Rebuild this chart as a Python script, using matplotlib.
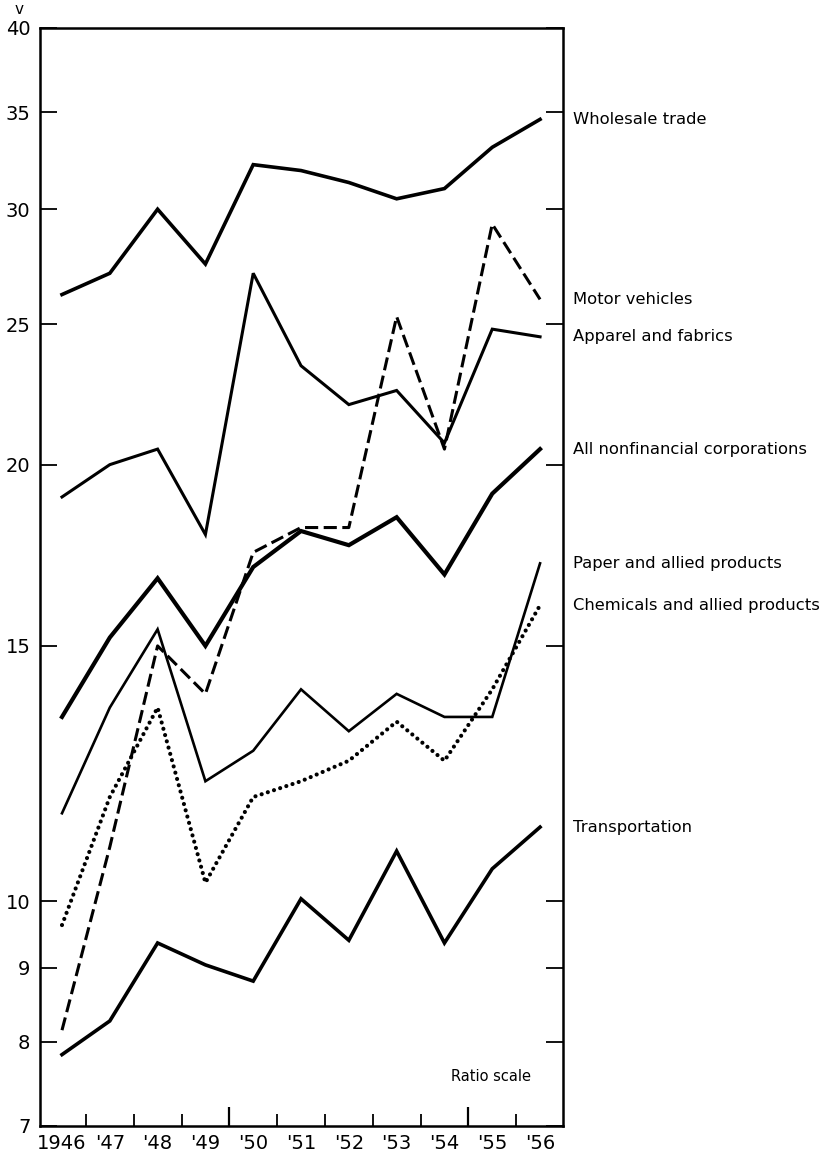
import matplotlib
matplotlib.use("Agg")
import matplotlib.pyplot as plt
from matplotlib.ticker import FixedLocator, NullFormatter, NullLocator

plt.rcParams['font.family'] = ['DejaVu Sans']

years = [1946, 1947, 1948, 1949, 1950, 1951, 1952, 1953, 1954, 1955, 1956]
year_labels = ["1946", "'47", "'48", "'49", "'50", "'51", "'52", "'53", "'54", "'55", "'56"]

wholesale = [26.2, 27.1, 30.0, 27.5, 32.2, 31.9, 31.3, 30.5, 31.0, 33.1, 34.6]
motor = [8.15, 10.9, 15.0, 13.9, 17.4, 18.1, 18.1, 25.3, 20.5, 29.3, 26.0]
apparel = [19.0, 20.0, 20.5, 17.9, 27.1, 23.4, 22.0, 22.5, 20.7, 24.8, 24.5]
all_nonfin = [13.4, 15.2, 16.7, 15.0, 17.0, 18.0, 17.6, 18.4, 16.8, 19.1, 20.5]
paper = [11.5, 13.6, 15.4, 12.1, 12.7, 14.0, 13.1, 13.9, 13.4, 13.4, 17.1]
chemicals = [9.63, 11.8, 13.6, 10.3, 11.8, 12.1, 12.5, 13.3, 12.5, 14.0, 16.0]
transport = [7.84, 8.27, 9.36, 9.04, 8.81, 10.04, 9.40, 10.83, 9.36, 10.53, 11.25]

y_ticks = [7, 8, 9, 10, 15, 20, 25, 30, 35, 40]
x_minor = [1946.5, 1947.5, 1948.5, 1950.5, 1951.5, 1952.5, 1953.5, 1955.5]
x_long = [1949.5, 1954.5]

fig = plt.figure(figsize=(8.4, 11.54), dpi=100)
ax = fig.add_axes([40 / 840, 1 - 1126 / 1154, 523 / 840, 1098 / 1154])

ax.plot(years, wholesale, color='black', lw=2.6, solid_joinstyle='miter')
ax.plot(years, apparel, color='black', lw=2.2, solid_joinstyle='miter')
ax.plot(years, motor, color='black', lw=2.2, linestyle=(0, (4.3, 1.8)))
ax.plot(years, all_nonfin, color='black', lw=3.0, solid_joinstyle='miter')
ax.plot(years, paper, color='black', lw=1.9, solid_joinstyle='miter')
ax.plot(years, chemicals, color='black', lw=3.0, linestyle=(0, (0.01, 1.55)),
        dash_capstyle='round')
ax.plot(years, transport, color='black', lw=2.6, solid_joinstyle='miter')

ax.set_yscale('log')
ax.set_ylim(7, 40)
ax.set_xlim(1945.54, 1956.48)

ax.yaxis.set_major_locator(FixedLocator(y_ticks))
ax.yaxis.set_minor_locator(NullLocator())
ax.set_yticklabels([str(v) for v in y_ticks])
ax.yaxis.set_minor_formatter(NullFormatter())
ax.tick_params(axis='y', which='major', direction='in', length=12, width=1.3,
               labelsize=14, pad=7, left=True, right=True)

ax.set_xticks(years)
ax.set_xticklabels(year_labels)
ax.set_xticks(x_minor, minor=True)
ax.tick_params(axis='x', which='major', length=0, labelsize=14, pad=6)
ax.tick_params(axis='x', which='minor', direction='in', length=9, width=1.3)

sec = ax.secondary_xaxis('bottom')
sec.set_xticks(x_long)
sec.set_xticklabels(['', ''])
sec.tick_params(direction='in', length=14, width=1.6)
sec.spines['bottom'].set_visible(False)

for s in ax.spines.values():
    s.set_linewidth(1.8)

ax.text(-0.04, 1.0165, 'v', transform=ax.transAxes, fontsize=11,
        ha='center', va='center')

# series names at the right of each line end
labels = [
    ("Wholesale trade", wholesale),
    ("Motor vehicles", motor),
    ("Apparel and fabrics", apparel),
    ("All nonfinancial corporations", all_nonfin),
    ("Paper and allied products", paper),
    ("Chemicals and allied products", chemicals),
    ("Transportation", transport),
]
trans = ax.get_yaxis_transform()
for name, vals in labels:
    ax.text(1.019, vals[-1], name, transform=trans, fontsize=11.8,
            ha='left', va='center', clip_on=False)

ax.text(0.862, 0.045, 'Ratio scale', transform=ax.transAxes, fontsize=10.5,
        ha='center', va='center')

fig.savefig('out.png', dpi=100)
